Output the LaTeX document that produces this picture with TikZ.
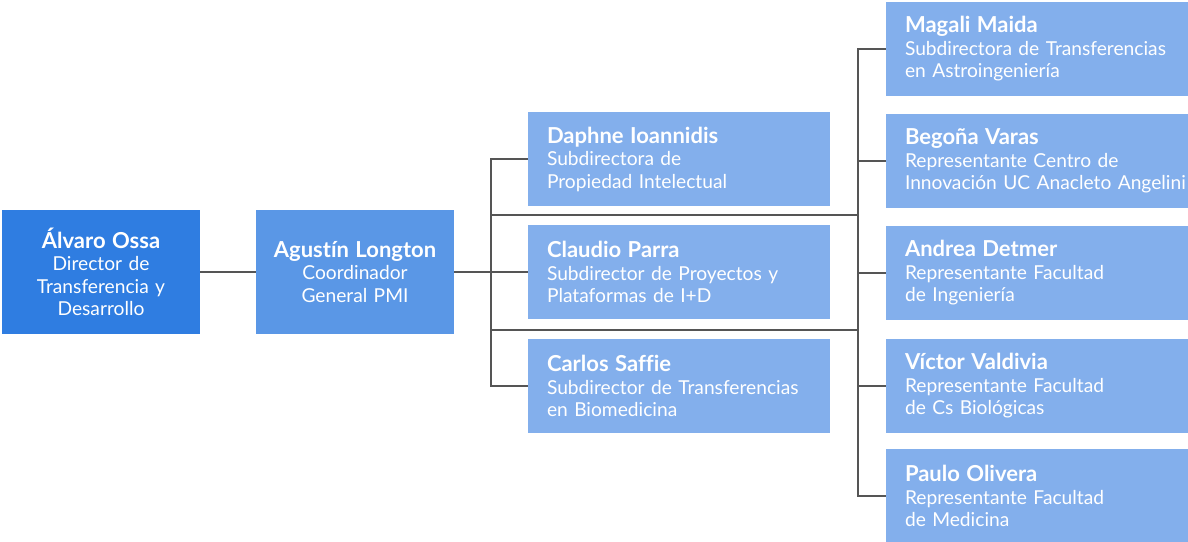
\documentclass[tikz,border=0pt]{standalone}
\usepackage{fontspec}
\setmainfont{Lato}[Ligatures=NoCommon]
\definecolor{boxA}{HTML}{2F7DE1}
\definecolor{boxB}{HTML}{5A97E6}
\definecolor{boxC}{HTML}{83AFEC}
\definecolor{wire}{HTML}{555555}
\tikzset{
  person/.style={rectangle, draw=none, text=white, inner sep=0pt,
    font=\fontsize{19.2}{22.5}\selectfont},
  leftbox/.style={person, minimum width=198pt, minimum height=124pt, text width=194pt, align=center},
  sidebox/.style={person, fill=boxC, minimum width=302pt, minimum height=94pt,
    text width=264pt, inner xsep=19pt, align=left},
  wireline/.style={draw=wire, line width=1.4pt},
}
\newcommand{\nm}[1]{{\fontsize{22}{22.5}\selectfont\bfseries #1}}
\hbadness=10000 \hfuzz=100pt
\begin{document}
\begin{tikzpicture}[x=1pt,y=-1pt]
\useasboundingbox (0,0) rectangle (1188,541);
% left
\node[leftbox, fill=boxA] (alvaro) at (101,272) {\nm{Álvaro Ossa}\\Director de\\Transferencia y\\Desarrollo};
\node[leftbox, fill=boxB] (agustin) at (355,272) {\nm{Agustín Longton}\\Coordinador\\General PMI};
% middle
\node[sidebox] (daphne) at (679,159) {\nm{Daphne Ioannidis}\\Subdirectora de\\Propiedad Intelectual};
\node[sidebox] (claudio) at (679,272) {\nm{Claudio Parra}\\Subdirector de Proyectos y\\Plataformas de I+D};
\node[sidebox] (carlos) at (679,386) {\nm{Carlos Saffie}\\Subdirector de Transferencias\\en Biomedicina};
% right
\node[sidebox] (magali) at (1037,49) {\nm{Magali Maida}\\Subdirectora de Transferencias\\en Astroingeniería};
\node[sidebox] (begona) at (1037,161) {\nm{Begoña Varas}\\Representante Centro de\\\mbox{Innovación UC Anacleto Angelini}};
\node[sidebox] (andrea) at (1037,273) {\nm{Andrea Detmer}\\Representante Facultad\\de Ingeniería};
\node[sidebox] (victor) at (1037,386) {\nm{Víctor Valdivia}\\Representante Facultad\\de Cs Biológicas};
\node[sidebox] (paulo) at (1037,496) {\nm{Paulo Olivera}\\Representante Facultad\\de Medicina};
% buses
\coordinate (mbus) at (491,272);
\coordinate (rbus) at (858,272);
\coordinate (link1) at (858,215);
\coordinate (link2) at (858,330);
\begin{scope}[wireline]
\draw (alvaro.east) -- (agustin.west);
\draw (agustin.east) -- (claudio.west);
\draw (daphne.west) -| (mbus) |- (carlos.west);
\draw (mbus |- link1) -- (link1);
\draw (mbus |- link2) -- (link2);
\draw (magali.west) -| (rbus) |- (paulo.west);
\draw (rbus |- begona.west) -- (begona.west);
\draw (rbus |- andrea.west) -- (andrea.west);
\draw (rbus |- victor.west) -- (victor.west);
\end{scope}
\end{tikzpicture}
\end{document}
